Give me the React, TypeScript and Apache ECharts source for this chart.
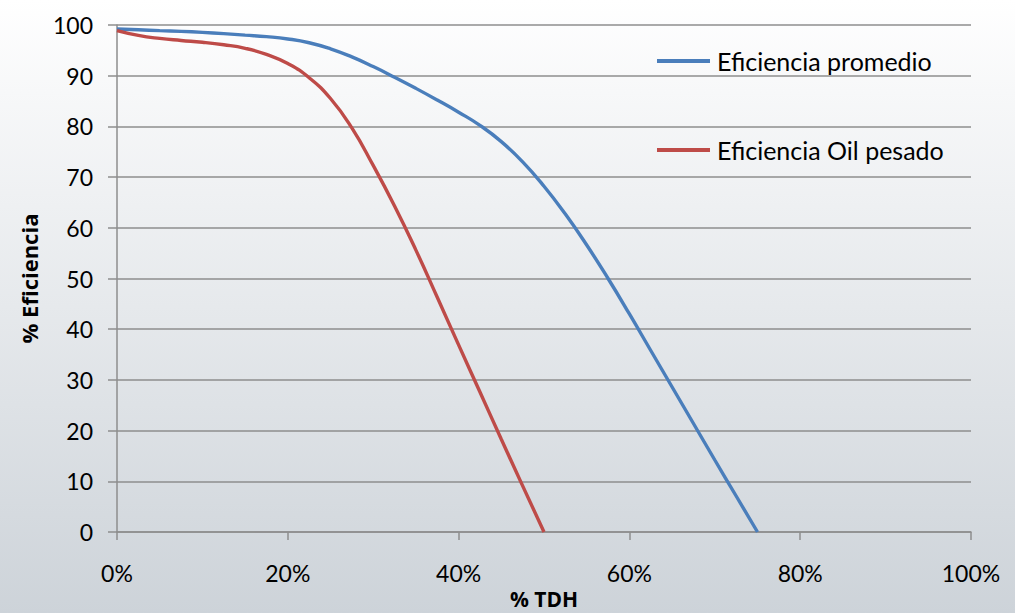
import React, { useEffect, useRef } from "react";
import * as echarts from "echarts";

// % TDH (x) vs % efficiency (y)
const promedioTDH = [0, 2.5, 5, 7.5, 10, 12.5, 15, 17.5, 20, 22.5, 25, 27.5, 30, 32.5, 35, 37.5, 40, 42.5, 45, 47.5, 50, 52.5, 55, 57.5, 60, 62.5, 65, 67.5, 70, 72.5, 75];
const promedioEff = [99.2, 99.05, 98.9, 98.75, 98.55, 98.3, 98.0, 97.7, 97.25, 96.5, 95.3, 93.7, 91.8, 89.7, 87.5, 85.2, 82.8, 80.2, 77.0, 73.0, 68.2, 62.7, 56.6, 50.0, 43.0, 35.8, 28.6, 21.4, 14.2, 7.1, 0];

const pesadoTDH = [0, 2.5, 5, 7.5, 10, 12.5, 15, 17.5, 20, 22.5, 25, 27.5, 30, 32.5, 35, 37.5, 40, 42.5, 45, 47.5, 50];
const pesadoEff = [98.9, 97.95, 97.35, 96.95, 96.6, 96.1, 95.4, 94.2, 92.4, 89.6, 85.5, 79.7, 72.3, 64.3, 55.6, 46.3, 36.9, 27.6, 18.3, 9.1, 0];

const seriesNames = ["Eficiencia promedio", "Eficiencia Oil pesado"];
const seriesColors = ["#4a7ebb", "#be4b48"];
const xTitle = "% TDH";
const yTitle = "% Eficiencia";

const FONT = "Lato, 'Noto Sans', sans-serif";
const TITLE_FONT = "'Open Sans', Lato, sans-serif";

export default function App() {
  const ref = useRef<HTMLDivElement>(null);

  useEffect(() => {
    if (!ref.current) return;
    const chart = echarts.init(ref.current, null, { renderer: "svg" });
    const pair = (xs: number[], ys: number[]) => xs.map((x, i) => [x, ys[i]]);
    const gridColor = "#8e8e8e";

    chart.setOption({
      animation: false,
      backgroundColor: "transparent",
      textStyle: { fontFamily: FONT },
      grid: { left: 117, right: 44, top: 25, bottom: 81, containLabel: false, outerBoundsMode: "none" },
      legend: {
        orient: "vertical",
        left: 657,
        top: 46,
        padding: 0,
        itemWidth: 53,
        itemHeight: 4,
        itemGap: 59,
        icon: "rect",
        data: seriesNames,
        textStyle: { fontFamily: FONT, fontSize: 25, color: "#000", lineHeight: 30, padding: [0, 0, 0, 2] },
      },
      xAxis: {
        type: "value",
        min: 0,
        max: 100,
        interval: 20,
        name: xTitle,
        nameLocation: "middle",
        nameGap: 51,
        nameTextStyle: { fontFamily: TITLE_FONT, fontSize: 21, fontWeight: "bold", color: "#000" },
        axisLine: { show: true, lineStyle: { color: gridColor, width: 1.5 } },
        axisTick: { show: true, inside: false, length: 8, lineStyle: { color: gridColor, width: 1.5 } },
        axisLabel: { formatter: "{value}%", fontSize: 23, color: "#000", margin: 29, fontFamily: FONT },
        splitLine: { show: false },
      },
      yAxis: {
        type: "value",
        min: 0,
        max: 100,
        interval: 10,
        name: yTitle,
        nameLocation: "middle",
        nameRotate: 90,
        nameGap: 77,
        nameTextStyle: { fontFamily: TITLE_FONT, fontSize: 22, fontWeight: "bold", color: "#000" },
        axisLine: { show: true, lineStyle: { color: gridColor, width: 1.5 } },
        axisTick: { show: true, inside: false, length: 9, lineStyle: { color: gridColor, width: 1.5 } },
        axisLabel: { fontSize: 23, color: "#000", margin: 24, fontFamily: FONT },
        splitLine: { show: true, lineStyle: { color: gridColor, width: 1.5 } },
      },
      series: [
        {
          name: seriesNames[0],
          type: "line",
          data: pair(promedioTDH, promedioEff),
          smooth: 0.5,
          showSymbol: false,
          lineStyle: { color: seriesColors[0], width: 3.4 },
          itemStyle: { color: seriesColors[0] },
        },
        {
          name: seriesNames[1],
          type: "line",
          data: pair(pesadoTDH, pesadoEff),
          smooth: 0.5,
          showSymbol: false,
          lineStyle: { color: seriesColors[1], width: 3.4 },
          itemStyle: { color: seriesColors[1] },
        },
      ],
    });

    return () => chart.dispose();
  }, []);

  return (
    <div
      style={{
        position: "absolute",
        left: 0,
        top: 0,
        width: 1015,
        height: 613,
        background: "linear-gradient(to bottom, #ffffff 0%, #f7f8f9 15%, #e6e9ec 50%, #cdd3d9 100%)",
      }}
    >
      <div ref={ref} style={{ width: 1015, height: 613 }} />
    </div>
  );
}
